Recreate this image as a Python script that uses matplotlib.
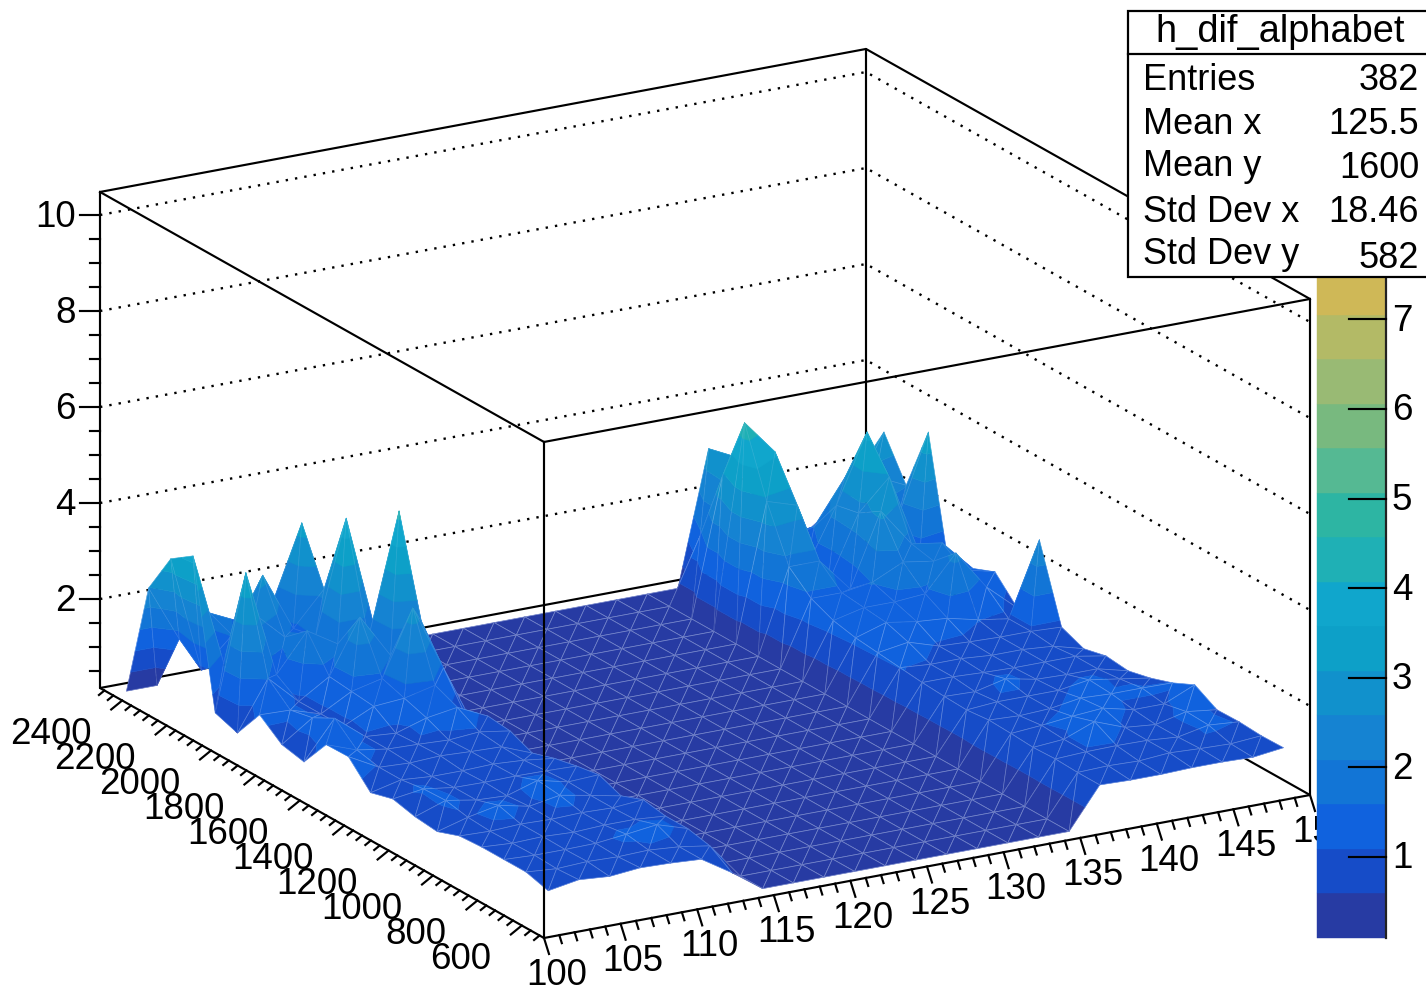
import matplotlib
matplotlib.use("Agg")
import matplotlib.pyplot as plt
import numpy as np
from matplotlib.collections import PolyCollection
from matplotlib.patches import Rectangle

plt.rcParams["font.family"] = ["Liberation Sans", "DejaVu Sans"]

# ------------------------------------------------------------------
# Data
# ------------------------------------------------------------------
x_nodes = [101, 103, 105, 107, 109, 111, 113, 115, 117, 119, 121, 123, 125,
           127, 129, 131, 133, 135, 137, 139, 141, 143, 145, 147, 149]
y_nodes = [550, 650, 750, 850, 950, 1050, 1150, 1250, 1350, 1450,
           1550, 1650, 1750, 1850, 1950, 2050, 2150, 2250, 2350, 2450]

F = 0.15  # empty cells sit on the floor of the box
left_part = [
    [0.94, 1.05, 1.00, 1.06, 1.04, 1.00, 0.60],
    [1.07, 1.02, 1.05, 1.03, 1.05, 1.00, 0.90],
    [1.07, 1.04, 1.04, 1.05, 1.12, 1.20, 1.00],
    [1.07, 1.03, 1.05, 1.02, 1.05, 1.05, 1.00],
    [1.04, 1.02, 1.05, 1.03, 1.05, 1.03, 1.08],
    [0.87, 1.05, 1.18, 1.04, 1.15, 1.03, 0.90],
    [0.92, 1.14, 1.03, 1.00, 1.20, 1.05, 1.08],
    [1.03, 1.12, 1.03, 1.02, 1.03, 1.02, 1.00],
    [0.90, 1.05, 1.00, 1.00, 1.02, 0.98, 0.90],
    [1.39, 1.05, 1.02, 1.05, 1.02, 1.00, 0.75],
    [1.38, 1.15, 1.05, 1.03, 1.00, 1.05, 0.95],
    [0.76, 1.55, 1.05, 1.00, 1.20, 1.30, 1.00],
    [0.86, 1.30, 1.00, 1.30, 1.35, 1.50, 0.75],
    [1.22, 1.20, 1.00, 1.35, 1.50, 2.85, 1.48],
    [0.58, 1.60, 1.00, 1.40, 2.52, 1.60, 2.20],
    [0.74, 3.54, 1.30, 2.09, 1.70, 1.70, 4.23],
    [3.75, 1.40, 2.30, 1.70, 1.60, 3.94, 1.35],
    [3.43, 0.99, 1.60, 2.73, 1.50, 2.20, 0.90],
    [2.56, 1.38, 1.80, 1.50, 1.70, 3.32, 0.60],
    [0.15, 0.15, 1.60, 0.90, 1.00, 1.00, 0.30],
]
right_part = [
    [1.00, 0.98, 0.98, 1.00, 1.00, 0.98, 1.06],
    [1.00, 1.02, 1.00, 1.05, 1.02, 1.00, 1.05],
    [1.02, 1.05, 1.06, 1.05, 1.00, 1.13, 1.08],
    [1.00, 1.05, 1.30, 1.06, 1.00, 1.15, 1.07],
    [1.03, 1.08, 1.15, 1.20, 1.05, 1.05, 1.33],
    [1.05, 1.02, 1.05, 1.15, 1.12, 1.12, 1.11],
    [1.00, 1.05, 1.05, 1.05, 1.15, 1.05, 0.95],
    [1.02, 1.00, 1.15, 1.02, 1.00, 1.00, 0.84],
    [1.05, 1.05, 1.02, 1.00, 1.00, 1.00, 0.89],
    [1.10, 1.05, 1.05, 1.00, 1.00, 0.95, 0.78],
    [1.15, 1.25, 1.05, 1.02, 1.00, 1.00, 0.97],
    [1.20, 1.40, 1.30, 1.25, 1.10, 1.00, 2.53],
    [1.30, 1.45, 1.45, 1.50, 2.23, 1.40, 0.85],
    [1.50, 1.50, 1.60, 1.90, 1.80, 1.50, 1.34],
    [1.90, 1.90, 1.20, 2.70, 1.90, 1.80, 1.15],
    [3.00, 2.80, 1.05, 2.40, 3.03, 1.30, 0.70],
    [4.38, 3.65, 1.10, 2.30, 3.71, 1.80, 3.47],
    [3.00, 3.00, 1.40, 1.60, 2.50, 2.40, 2.10],
    [1.50, 3.06, 1.80, 1.20, 1.27, 1.80, 2.95],
    [0.15, 2.94, 2.38, 1.30, 0.74, 1.20, 2.00],
]
z_rows = [l + [F] * 11 + r for l, r in zip(left_part, right_part)]

band_edges = [0.096 + 0.4967 * k for k in range(21)]
band_colors = ["#273BA3", "#164CC8", "#1062DE", "#1275D6", "#1583D2",
               "#1191CC", "#0DA0C8", "#10A6CC", "#1FB0B5", "#2DB5A3",
               "#55B993", "#78B97F", "#99BA74", "#B3BA66", "#CFB857",
               "#D8BC45", "#E6C236", "#F0CC2E", "#F6DA24", "#F9E81E"]

x_ticks = [100, 105, 110, 115, 120, 125, 130, 135, 140, 145, 150]
y_ticks = [600, 800, 1000, 1200, 1400, 1600, 1800, 2000, 2200, 2400]
z_ticks = [2, 4, 6, 8, 10]
cbar_ticks = [1, 2, 3, 4, 5, 6, 7]

stats_title = "h_dif_alphabet"
stats_names = ["Entries", "Mean x", "Mean y", "Std Dev x", "Std Dev y"]
stats_values = ["382", "125.5", "1600", "18.46", "582"]

# ------------------------------------------------------------------
# Box projection (same oblique view as the canvas, in pixels)
# ------------------------------------------------------------------
XMIN, XMAX = 100, 150
YMIN, YMAX = 500, 2500
ZMIN, ZMAX = 0.146, 10.48
LW = 1.55
FS = 26.5


def proj(x, y, z):
    sx = 544 + (x - XMIN) * 15.32 - (y - YMIN) * 0.222
    sy = 938 - (x - XMIN) * 2.86 - (y - YMIN) * 0.125 - (z - ZMIN) * 48.0
    return sx, sy


def clip_band(pts, lo, hi):
    # Sutherland-Hodgman on the z coordinate only
    def clip(poly, level, keep_above):
        out = []
        for k in range(len(poly)):
            p, q = poly[k], poly[(k + 1) % len(poly)]
            pin = p[2] >= level if keep_above else p[2] <= level
            qin = q[2] >= level if keep_above else q[2] <= level
            if pin:
                out.append(p)
            if pin != qin:
                t = (level - p[2]) / (q[2] - p[2])
                out.append(p + t * (q - p))
        return out
    poly = clip(list(pts), lo, True)
    if poly:
        poly = clip(poly, hi, False)
    return poly


fig = plt.figure(figsize=(14.26, 9.90), dpi=100)
ax = fig.add_axes([0, 0, 1, 1])
ax.set_xlim(0, 1426)
ax.set_ylim(990, 0)
ax.axis("off")

# back walls and dotted grid
for a, b in [((XMIN, YMAX, ZMIN), (XMAX, YMAX, ZMIN)), ((XMAX, YMAX, ZMIN), (XMAX, YMIN, ZMIN)),
             ((XMAX, YMAX, ZMIN), (XMAX, YMAX, ZMAX)), ((XMIN, YMAX, ZMIN), (XMIN, YMIN, ZMIN)),
             ((XMIN, YMIN, ZMIN), (XMAX, YMIN, ZMIN)), ((XMAX, YMIN, ZMIN), (XMAX, YMIN, ZMAX)),
             ((XMIN, YMAX, ZMIN), (XMIN, YMAX, ZMAX)), ((XMIN, YMAX, ZMAX), (XMAX, YMAX, ZMAX)),
             ((XMAX, YMAX, ZMAX), (XMAX, YMIN, ZMAX))]:
    p, q = proj(*a), proj(*b)
    ax.plot([p[0], q[0]], [p[1], q[1]], color="k", lw=LW, zorder=1, solid_capstyle="round")

for v in z_ticks:
    pts = [proj(XMIN, YMAX, v), proj(XMAX, YMAX, v), proj(XMAX, YMIN, v)]
    ax.plot([p[0] for p in pts], [p[1] for p in pts], color="k", lw=1.7,
            ls=(0, (1, 3.0)), zorder=1)

# surface: triangles back to front, each cut in the colour bands
Z = np.array(z_rows, dtype=float)
tris = []
for i in range(len(y_nodes) - 1):
    for j in range(len(x_nodes) - 1):
        c = [np.array([x_nodes[j + dj], y_nodes[i + di], Z[i + di, j + dj]])
             for di, dj in [(0, 0), (0, 1), (1, 1), (1, 0)]]
        tris.append([c[0], c[1], c[2]])
        tris.append([c[0], c[2], c[3]])


def depth(t):
    return np.mean([proj(p[0], p[1], ZMIN)[1] for p in t])


tris.sort(key=depth)

polys, faces, edges, widths = [], [], [], []
for t in tris:
    for k in range(len(band_colors)):
        lo, hi = band_edges[k], band_edges[k + 1]
        piece = clip_band(t, lo, hi)
        if len(piece) >= 3:
            polys.append([proj(*p) for p in piece])
            faces.append(band_colors[k])
            edges.append(band_colors[k])
            widths.append(0.4)
    zbar = np.mean([p[2] for p in t])
    polys.append([proj(*p) for p in t])
    faces.append((0, 0, 0, 0))
    alpha = 0.40 if zbar < 0.2 else (0.30 if zbar < 1.3 else 0.13)
    edges.append((0.85, 0.90, 1.0, alpha))
    widths.append(0.55)

ax.add_collection(PolyCollection(polys, facecolors=faces, edgecolors=edges,
                                 linewidths=widths, zorder=2))

# front edges of the box
for a, b in [((XMIN, YMIN, ZMIN), (XMIN, YMIN, ZMAX)), ((XMIN, YMIN, ZMAX), (XMAX, YMIN, ZMAX)),
             ((XMIN, YMIN, ZMAX), (XMIN, YMAX, ZMAX))]:
    p, q = proj(*a), proj(*b)
    ax.plot([p[0], q[0]], [p[1], q[1]], color="k", lw=LW, zorder=3)

# x axis
for v in range(XMIN, XMAX + 1):
    sx, sy = proj(v, YMIN, ZMIN)
    major = v % 5 == 0
    dx, dy = (5, 16) if major else (2.5, 8)
    ax.plot([sx, sx + dx], [sy, sy + dy], color="k", lw=LW, zorder=3)
for v in x_ticks:
    sx, sy = proj(v, YMIN, ZMIN)
    ax.text(sx + 12.5, sy + 37.5, str(v), fontsize=FS, ha="center", va="center", zorder=3)

# y axis
for v in range(520, YMAX + 1, 40):
    sx, sy = proj(XMIN, v, ZMIN)
    major = v % 200 == 0
    dx, dy = (-11, 9) if major else (-5.5, 4.5)
    ax.plot([sx, sx + dx], [sy, sy + dy], color="k", lw=LW, zorder=3)
for v in y_ticks:
    sx, sy = proj(XMIN, v, ZMIN)
    ax.text(sx - 31, sy + 34, str(v), fontsize=FS, ha="right", va="center", zorder=3)

# z axis
for v in np.arange(0.5, 10.01, 0.5):
    sx, sy = proj(XMIN, YMAX, v)
    major = v in z_ticks
    ax.plot([sx - (20 if major else 10), sx], [sy, sy], color="k", lw=LW, zorder=3)
for v in z_ticks:
    sx, sy = proj(XMIN, YMAX, v)
    ax.text(76, sy + 2, str(v), fontsize=FS, ha="right", va="center", zorder=3)


# colour bar
def cbar_y(v):
    return 857 - (v - 1) * 89.6


for k, col in enumerate(band_colors):
    ax.add_patch(Rectangle((1317, cbar_y(band_edges[k + 1])), 69,
                           cbar_y(band_edges[k]) - cbar_y(band_edges[k + 1]),
                           facecolor=col, edgecolor=col, lw=0.3, zorder=4))
ax.plot([1386, 1386], [cbar_y(band_edges[0]), cbar_y(band_edges[-1])], color="#222222", lw=1.6, zorder=4)
for v in cbar_ticks:
    ax.plot([1349, 1386], [cbar_y(v), cbar_y(v)], color="k", lw=LW, zorder=4)
    ax.text(1402, cbar_y(v) + 2, str(v), fontsize=FS, ha="center", va="center", zorder=4)

# stats box
ax.add_patch(Rectangle((1128, 11), 320, 266, facecolor="white", edgecolor="k", lw=1.6, zorder=5))
ax.plot([1128, 1426], [54, 54], color="k", lw=1.6, zorder=6)
ax.text(1280, 32, stats_title, fontsize=27.4, ha="center", va="center", zorder=6)
name_y = [80, 124, 166, 213, 255]
value_y = [80, 124, 169, 213, 258]
for name, val, ny, vy in zip(stats_names, stats_values, name_y, value_y):
    ax.text(1143, ny, name, fontsize=26, ha="left", va="center", zorder=6)
    ax.text(1419, vy, val, fontsize=26, ha="right", va="center", zorder=6)

fig.savefig("out.png", dpi=100)
